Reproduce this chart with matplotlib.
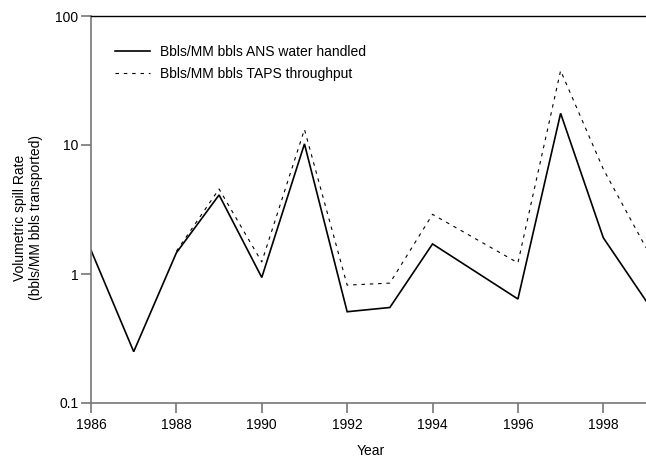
import matplotlib
matplotlib.use("Agg")
import matplotlib.pyplot as plt

years_ans = [1986, 1987, 1988, 1989, 1990, 1991, 1992, 1993, 1994, 1996, 1997, 1998, 1999]
ans_water = [1.53, 0.25, 1.46, 4.1, 0.94, 10.2, 0.51, 0.55, 1.71, 0.64, 17.6, 1.91, 0.62]

years_taps = [1988, 1989, 1990, 1991, 1992, 1993, 1994, 1996, 1997, 1998, 1999]
taps_throughput = [1.5, 4.56, 1.24, 13.2, 0.82, 0.85, 2.9, 1.22, 37.7, 6.5, 1.6]

xticks = [1986, 1988, 1990, 1992, 1994, 1996, 1998]
yticks = [0.1, 1, 10, 100]
ytick_labels = ["0.1", "1", "10", "100"]

plt.rcParams['font.family'] = ['Liberation Sans', 'DejaVu Sans']
plt.rcParams['lines.scale_dashes'] = False

W, H = 646, 457
fig = plt.figure(figsize=(W / 100, H / 100), dpi=100)
ax = fig.add_axes([91 / W, 1 - 403 / H, (646 - 91) / W, (403 - 16) / H])

ax.plot(years_ans, ans_water, color='black', lw=1.2, solid_joinstyle='miter',
        label='Bbls/MM bbls ANS water handled')
ax.plot(years_taps, taps_throughput, color='black', lw=0.8, dashes=(2.5, 3.5),
        label='Bbls/MM bbls TAPS throughput')

ax.set_yscale('log')
ax.set_ylim(0.1, 100)
ax.set_xlim(1986, 1999)
ax.set_xticks(xticks)
ax.set_xticklabels([str(x) for x in xticks])
ax.set_yticks(yticks)
ax.set_yticklabels(ytick_labels)
ax.yaxis.set_minor_locator(matplotlib.ticker.NullLocator())

grey = '#777777'
ax.spines['right'].set_visible(False)
ax.spines['left'].set_color(grey)
ax.spines['bottom'].set_color(grey)
ax.spines['top'].set_color('black')
for s in ['left', 'bottom']:
    ax.spines[s].set_linewidth(1.2)
ax.spines['top'].set_linewidth(1.0)
ax.tick_params(axis='both', direction='out', length=7, width=1.2, color=grey,
               labelsize=10, labelcolor='black')
ax.tick_params(axis='x', pad=3.5)
ax.tick_params(axis='y', pad=2)

fig.text(28 / W, 1 - 218 / H, 'Volumetric spill Rate\n(bbls/MM bbls transported)',
         rotation=90, ha='center', va='center', fontsize=10, linespacing=1.1)
fig.text(371 / W, 1 - 451 / H, 'Year', ha='center', va='center', fontsize=10)

leg = ax.legend(loc='upper left', bbox_to_anchor=(115 / W, 1 - 45 / H),
                bbox_transform=fig.transFigure, frameon=False, fontsize=10,
                handlelength=2.5, handletextpad=0.75, labelspacing=0.6,
                borderpad=0, borderaxespad=0)

fig.savefig('out.png', dpi=100)
